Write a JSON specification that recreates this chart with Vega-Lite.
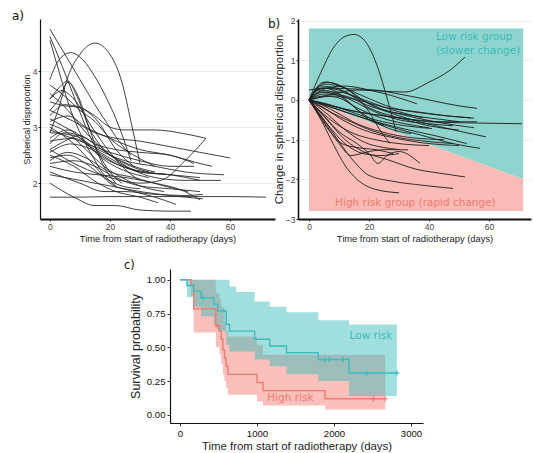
{
"$schema":"https://vega.github.io/schema/vega-lite/v6.json",
"padding":{"left":12,"top":10,"right":1,"bottom":0},
"background":"white",
"config":{
 "view":{"stroke":null},
 "font":"Liberation Sans",
 "axis":{"domainColor":"#111","domainWidth":1.2,"tickColor":"#333","tickSize":2,"labelColor":"#444","titleColor":"#222","titleFontWeight":"normal","gridColor":"#e8e8e8","gridWidth":0.8,"labelFont":"Liberation Sans","titleFont":"Liberation Sans"},
 "title":{"anchor":"start","frame":"group","offset":0,"baseline":"alphabetic","font":"DejaVu Sans","fontSize":12,"fontWeight":"normal","color":"#111"}
},
"datasets":{
"a":[
{"p":1,"d":0,"v":2.9},{"p":1,"d":3,"v":3.35},{"p":1,"d":6,"v":3.9},{"p":1,"d":10,"v":4.3},{"p":1,"d":15,"v":4.5},{"p":1,"d":20,"v":4.3},{"p":1,"d":24,"v":3.8},{"p":1,"d":27,"v":3.1},{"p":1,"d":30,"v":2.35},
{"p":2,"d":0,"v":3.85},{"p":2,"d":3,"v":4.2},{"p":2,"d":7,"v":4.33},{"p":2,"d":11,"v":4.2},{"p":2,"d":15,"v":3.9},{"p":2,"d":19,"v":3.5},{"p":2,"d":22,"v":3.15},{"p":2,"d":27,"v":2.4},
{"p":3,"d":0,"v":4.75},{"p":3,"d":5,"v":4.3},{"p":3,"d":10,"v":3.85},{"p":3,"d":15,"v":3.4},{"p":3,"d":19,"v":3.07},{"p":3,"d":23,"v":2.75},{"p":3,"d":27,"v":2.5},
{"p":4,"d":0,"v":4.62},{"p":4,"d":4,"v":4.1},{"p":4,"d":8,"v":3.55},{"p":4,"d":12,"v":3.0},{"p":4,"d":16,"v":2.55},{"p":4,"d":20,"v":2.2},{"p":4,"d":24,"v":2.0},
{"p":5,"d":0,"v":4.55},{"p":5,"d":3,"v":4.0},{"p":5,"d":6,"v":3.45},{"p":5,"d":10,"v":2.9},{"p":5,"d":14,"v":2.5},{"p":5,"d":18,"v":2.15},{"p":5,"d":22,"v":1.95},
{"p":6,"d":0,"v":3.5},{"p":6,"d":3,"v":3.7},{"p":6,"d":6,"v":3.82},{"p":6,"d":9,"v":3.55},{"p":6,"d":13,"v":3.0},{"p":6,"d":18,"v":2.6},{"p":6,"d":25,"v":2.35},{"p":6,"d":33,"v":2.2},
{"p":7,"d":0,"v":3.75},{"p":7,"d":5,"v":3.55},{"p":7,"d":10,"v":3.3},{"p":7,"d":15,"v":3.1},{"p":7,"d":20,"v":2.8},{"p":7,"d":28,"v":2.5},{"p":7,"d":35,"v":2.3},
{"p":8,"d":0,"v":3.45},{"p":8,"d":5,"v":3.38},{"p":8,"d":10,"v":3.35},{"p":8,"d":15,"v":3.2},{"p":8,"d":20,"v":3.0},{"p":8,"d":25,"v":2.95},{"p":8,"d":35,"v":2.95},{"p":8,"d":45,"v":2.88},{"p":8,"d":52,"v":2.8},
{"p":9,"d":0,"v":2.6},{"p":9,"d":10,"v":2.3},{"p":9,"d":20,"v":2.1},{"p":9,"d":30,"v":2.0},{"p":9,"d":37,"v":2.05},{"p":9,"d":45,"v":2.4},{"p":9,"d":52,"v":2.8},
{"p":10,"d":0,"v":3.3},{"p":10,"d":8,"v":3.1},{"p":10,"d":15,"v":2.9},{"p":10,"d":22,"v":2.8},{"p":10,"d":30,"v":2.75},{"p":10,"d":40,"v":2.65},{"p":10,"d":50,"v":2.55},{"p":10,"d":60,"v":2.45},
{"p":11,"d":0,"v":3.1},{"p":11,"d":6,"v":3.2},{"p":11,"d":12,"v":3.0},{"p":11,"d":20,"v":2.8},{"p":11,"d":30,"v":2.6},{"p":11,"d":40,"v":2.5},{"p":11,"d":50,"v":2.35},{"p":11,"d":54,"v":2.3},
{"p":12,"d":0,"v":2.9},{"p":12,"d":8,"v":2.85},{"p":12,"d":16,"v":2.6},{"p":12,"d":25,"v":2.4},{"p":12,"d":35,"v":2.3},{"p":12,"d":45,"v":2.2},{"p":12,"d":58,"v":2.15},
{"p":13,"d":0,"v":2.75},{"p":13,"d":8,"v":2.8},{"p":13,"d":15,"v":2.6},{"p":13,"d":25,"v":2.3},{"p":13,"d":35,"v":2.1},{"p":13,"d":45,"v":2.05},{"p":13,"d":57,"v":2.05},
{"p":14,"d":0,"v":1.75},{"p":14,"d":10,"v":1.75},{"p":14,"d":20,"v":1.76},{"p":14,"d":40,"v":1.76},{"p":14,"d":60,"v":1.76},{"p":14,"d":72,"v":1.75},
{"p":15,"d":0,"v":2.0},{"p":15,"d":8,"v":1.75},{"p":15,"d":15,"v":1.6},{"p":15,"d":22,"v":1.6},{"p":15,"d":30,"v":1.52},{"p":15,"d":40,"v":1.5},{"p":15,"d":47,"v":1.5},
{"p":16,"d":0,"v":2.2},{"p":16,"d":10,"v":2.0},{"p":16,"d":18,"v":1.85},{"p":16,"d":25,"v":1.85},{"p":16,"d":35,"v":1.8},{"p":16,"d":45,"v":1.78},{"p":16,"d":51,"v":1.8},
{"p":17,"d":0,"v":2.15},{"p":17,"d":10,"v":2.05},{"p":17,"d":20,"v":1.95},{"p":17,"d":30,"v":1.85},{"p":17,"d":40,"v":1.78},{"p":17,"d":51,"v":1.72},
{"p":18,"d":0,"v":2.5},{"p":18,"d":8,"v":2.3},{"p":18,"d":16,"v":2.0},{"p":18,"d":22,"v":1.85},{"p":18,"d":30,"v":1.75},{"p":18,"d":36,"v":1.65},
{"p":19,"d":0,"v":3.0},{"p":19,"d":8,"v":2.7},{"p":19,"d":15,"v":2.3},{"p":19,"d":20,"v":2.0},{"p":19,"d":28,"v":1.85},{"p":19,"d":35,"v":1.75},{"p":19,"d":42,"v":1.62},
{"p":20,"d":0,"v":2.4},{"p":20,"d":6,"v":2.55},{"p":20,"d":12,"v":2.45},{"p":20,"d":20,"v":2.2},{"p":20,"d":28,"v":2.1},{"p":20,"d":38,"v":1.95},{"p":20,"d":46,"v":1.85},
{"p":21,"d":0,"v":2.55},{"p":21,"d":7,"v":2.7},{"p":21,"d":14,"v":2.6},{"p":21,"d":22,"v":2.35},{"p":21,"d":30,"v":2.2},{"p":21,"d":40,"v":2.15},{"p":21,"d":50,"v":2.1},
{"p":22,"d":0,"v":2.7},{"p":22,"d":5,"v":2.9},{"p":22,"d":12,"v":2.8},{"p":22,"d":20,"v":2.5},{"p":22,"d":28,"v":2.3},{"p":22,"d":35,"v":2.2},
{"p":23,"d":0,"v":3.2},{"p":23,"d":5,"v":3.4},{"p":23,"d":10,"v":3.35},{"p":23,"d":16,"v":3.1},{"p":23,"d":22,"v":2.6},{"p":23,"d":28,"v":2.3},
{"p":24,"d":0,"v":3.5},{"p":24,"d":4,"v":3.65},{"p":24,"d":8,"v":3.5},{"p":24,"d":14,"v":3.0},{"p":24,"d":20,"v":2.55},{"p":24,"d":26,"v":2.2},{"p":24,"d":30,"v":2.05},
{"p":25,"d":0,"v":2.8},{"p":25,"d":6,"v":2.95},{"p":25,"d":12,"v":2.7},{"p":25,"d":18,"v":2.45},{"p":25,"d":24,"v":2.3},{"p":25,"d":32,"v":2.2},{"p":25,"d":40,"v":2.15},
{"p":26,"d":0,"v":2.35},{"p":26,"d":8,"v":2.4},{"p":26,"d":15,"v":2.3},{"p":26,"d":22,"v":2.1},{"p":26,"d":30,"v":1.95},{"p":26,"d":40,"v":1.9},{"p":26,"d":50,"v":1.85},
{"p":27,"d":0,"v":3.05},{"p":27,"d":6,"v":2.9},{"p":27,"d":12,"v":2.6},{"p":27,"d":18,"v":2.3},{"p":27,"d":24,"v":2.1},{"p":27,"d":30,"v":1.95},{"p":27,"d":38,"v":1.85},
{"p":28,"d":0,"v":2.6},{"p":28,"d":5,"v":2.75},{"p":28,"d":10,"v":2.85},{"p":28,"d":15,"v":2.7},{"p":28,"d":22,"v":2.6},{"p":28,"d":30,"v":2.55},{"p":28,"d":40,"v":2.5},{"p":28,"d":48,"v":2.35},
{"p":29,"d":0,"v":3.6},{"p":29,"d":6,"v":3.3},{"p":29,"d":12,"v":2.9},{"p":29,"d":18,"v":2.6},{"p":29,"d":24,"v":2.35},{"p":29,"d":30,"v":2.2},{"p":29,"d":40,"v":2.15},{"p":29,"d":50,"v":2.05},
{"p":30,"d":0,"v":2.45},{"p":30,"d":6,"v":2.5},{"p":30,"d":12,"v":2.35},{"p":30,"d":18,"v":2.1},{"p":30,"d":24,"v":1.95},{"p":30,"d":30,"v":1.9},
{"p":31,"d":0,"v":3.3},{"p":31,"d":3,"v":3.5},{"p":31,"d":6,"v":3.8},{"p":31,"d":9,"v":3.6},{"p":31,"d":13,"v":3.0},{"p":31,"d":17,"v":2.4},{"p":31,"d":22,"v":2.0},
{"p":32,"d":0,"v":2.3},{"p":32,"d":8,"v":2.2},{"p":32,"d":16,"v":2.15},{"p":32,"d":25,"v":2.1},{"p":32,"d":35,"v":2.0},{"p":32,"d":45,"v":1.85},{"p":32,"d":50,"v":1.7},
{"p":33,"d":0,"v":2.95},{"p":33,"d":10,"v":2.75},{"p":33,"d":20,"v":2.55},{"p":33,"d":30,"v":2.4},{"p":33,"d":40,"v":2.3},{"p":33,"d":48,"v":2.3},
{"p":34,"d":0,"v":3.15},{"p":34,"d":5,"v":3.0},{"p":34,"d":10,"v":2.85},{"p":34,"d":15,"v":2.55},{"p":34,"d":20,"v":2.35},{"p":34,"d":26,"v":2.2},{"p":34,"d":33,"v":2.1}
],
"b":[
{"p":1,"d":0,"v":0},{"p":1,"d":4,"v":0.7},{"p":1,"d":8,"v":1.3},{"p":1,"d":12,"v":1.6},{"p":1,"d":15,"v":1.65},{"p":1,"d":19,"v":1.45},{"p":1,"d":23,"v":0.8},{"p":1,"d":26,"v":0.05},{"p":1,"d":28,"v":-0.5},{"p":1,"d":29,"v":-0.8},
{"p":2,"d":0,"v":0},{"p":2,"d":8,"v":0.15},{"p":2,"d":16,"v":0.25},{"p":2,"d":25,"v":0.22},{"p":2,"d":32,"v":0.2},{"p":2,"d":40,"v":0.45},{"p":2,"d":47,"v":0.75},{"p":2,"d":52,"v":1.08},
{"p":3,"d":0,"v":0.25},{"p":3,"d":6,"v":0.3},{"p":3,"d":14,"v":0.28},{"p":3,"d":22,"v":0.25},{"p":3,"d":30,"v":0.15},{"p":3,"d":40,"v":0},{"p":3,"d":50,"v":-0.15},{"p":3,"d":56,"v":-0.21},
{"p":4,"d":0,"v":0},{"p":4,"d":10,"v":-0.2},{"p":4,"d":20,"v":-0.35},{"p":4,"d":30,"v":-0.45},{"p":4,"d":40,"v":-0.55},{"p":4,"d":55,"v":-0.58},{"p":4,"d":71,"v":-0.6},
{"p":5,"d":0,"v":0},{"p":5,"d":5,"v":0.4},{"p":5,"d":10,"v":0.35},{"p":5,"d":18,"v":0.1},{"p":5,"d":28,"v":-0.2},{"p":5,"d":40,"v":-0.35},{"p":5,"d":55,"v":-0.46},
{"p":6,"d":0,"v":0},{"p":6,"d":6,"v":0.45},{"p":6,"d":12,"v":0.3},{"p":6,"d":20,"v":-0.1},{"p":6,"d":30,"v":-0.4},{"p":6,"d":45,"v":-0.7},{"p":6,"d":59,"v":-0.93},
{"p":7,"d":0,"v":0},{"p":7,"d":8,"v":-0.2},{"p":7,"d":16,"v":-0.4},{"p":7,"d":26,"v":-0.65},{"p":7,"d":38,"v":-0.9},{"p":7,"d":48,"v":-1.1},{"p":7,"d":57,"v":-1.22},
{"p":8,"d":0,"v":0},{"p":8,"d":10,"v":-0.25},{"p":8,"d":20,"v":-0.5},{"p":8,"d":30,"v":-0.7},{"p":8,"d":42,"v":-0.9},{"p":8,"d":52.6,"v":-1.1},
{"p":9,"d":0,"v":0},{"p":9,"d":5,"v":0.3},{"p":9,"d":12,"v":0.2},{"p":9,"d":20,"v":-0.2},{"p":9,"d":30,"v":-0.45},{"p":9,"d":40,"v":-0.65},{"p":9,"d":50,"v":-0.76},
{"p":10,"d":0,"v":0},{"p":10,"d":6,"v":-0.1},{"p":10,"d":14,"v":-0.3},{"p":10,"d":22,"v":-0.5},{"p":10,"d":32,"v":-0.65},{"p":10,"d":41,"v":-0.72},
{"p":11,"d":0,"v":0},{"p":11,"d":5,"v":-0.4},{"p":11,"d":10,"v":-0.8},{"p":11,"d":16,"v":-1.1},{"p":11,"d":20,"v":-1.35},{"p":11,"d":23,"v":-1.6},{"p":11,"d":26,"v":-1.4},{"p":11,"d":30,"v":-1.3},{"p":11,"d":37,"v":-1.6},
{"p":12,"d":0,"v":0},{"p":12,"d":6,"v":-0.5},{"p":12,"d":12,"v":-1.0},{"p":12,"d":18,"v":-1.3},{"p":12,"d":26,"v":-1.5},{"p":12,"d":36,"v":-1.75},{"p":12,"d":44,"v":-1.85},{"p":12,"d":52,"v":-1.94},
{"p":13,"d":0,"v":0},{"p":13,"d":5,"v":-0.5},{"p":13,"d":10,"v":-1.05},{"p":13,"d":15,"v":-1.55},{"p":13,"d":20,"v":-1.9},{"p":13,"d":28,"v":-2.05},{"p":13,"d":38,"v":-2.15},{"p":13,"d":48,"v":-2.23},
{"p":14,"d":0,"v":0},{"p":14,"d":4,"v":-0.5},{"p":14,"d":8,"v":-1.1},{"p":14,"d":12,"v":-1.65},{"p":14,"d":16,"v":-2.0},{"p":14,"d":22,"v":-2.25},{"p":14,"d":30,"v":-2.34},
{"p":15,"d":0,"v":0},{"p":15,"d":5,"v":-0.55},{"p":15,"d":10,"v":-1.1},{"p":15,"d":14,"v":-1.4},{"p":15,"d":20,"v":-1.3},{"p":15,"d":26,"v":-1.25},{"p":15,"d":33,"v":-1.26},
{"p":16,"d":0,"v":0},{"p":16,"d":5,"v":0.2},{"p":16,"d":10,"v":0.2},{"p":16,"d":16,"v":0.05},{"p":16,"d":25,"v":-0.25},{"p":16,"d":35,"v":-0.4},{"p":16,"d":45,"v":-0.5},{"p":16,"d":50,"v":-0.55},
{"p":17,"d":0,"v":0},{"p":17,"d":4,"v":0.35},{"p":17,"d":9,"v":0.3},{"p":17,"d":15,"v":0.1},{"p":17,"d":22,"v":-0.1},{"p":17,"d":30,"v":-0.3},{"p":17,"d":38,"v":-0.45},
{"p":18,"d":0,"v":0},{"p":18,"d":7,"v":-0.3},{"p":18,"d":14,"v":-0.55},{"p":18,"d":22,"v":-0.8},{"p":18,"d":30,"v":-0.95},{"p":18,"d":40,"v":-1.05},{"p":18,"d":48,"v":-1.1},
{"p":19,"d":0,"v":0},{"p":19,"d":5,"v":0.15},{"p":19,"d":12,"v":0.1},{"p":19,"d":20,"v":-0.15},{"p":19,"d":30,"v":-0.35},{"p":19,"d":42,"v":-0.55},{"p":19,"d":55,"v":-0.7},
{"p":20,"d":0,"v":0},{"p":20,"d":6,"v":-0.35},{"p":20,"d":12,"v":-0.75},{"p":20,"d":18,"v":-1.05},{"p":20,"d":25,"v":-1.2},{"p":20,"d":30,"v":-1.25},
{"p":21,"d":0,"v":0},{"p":21,"d":5,"v":0.45},{"p":21,"d":9,"v":0.4},{"p":21,"d":14,"v":0.2},{"p":21,"d":20,"v":-0.3},{"p":21,"d":24,"v":-0.8},{"p":21,"d":27,"v":-1.1},
{"p":22,"d":0,"v":0},{"p":22,"d":3,"v":0.25},{"p":22,"d":8,"v":0.2},{"p":22,"d":14,"v":0},{"p":22,"d":22,"v":-0.3},{"p":22,"d":30,"v":-0.5},{"p":22,"d":40,"v":-0.6},{"p":22,"d":48,"v":-0.65},
{"p":23,"d":0,"v":0},{"p":23,"d":8,"v":-0.15},{"p":23,"d":16,"v":-0.3},{"p":23,"d":25,"v":-0.4},{"p":23,"d":35,"v":-0.5},{"p":23,"d":45,"v":-0.55},{"p":23,"d":56,"v":-0.55},
{"p":24,"d":0,"v":0},{"p":24,"d":4,"v":-0.3},{"p":24,"d":9,"v":-0.6},{"p":24,"d":15,"v":-0.85},{"p":24,"d":22,"v":-1.0},{"p":24,"d":30,"v":-1.1},{"p":24,"d":40,"v":-1.15},
{"p":25,"d":0,"v":0},{"p":25,"d":6,"v":0.3},{"p":25,"d":12,"v":0.35},{"p":25,"d":20,"v":0.25},{"p":25,"d":28,"v":0.1},{"p":25,"d":36,"v":-0.1},
{"p":26,"d":0,"v":0},{"p":26,"d":5,"v":-0.15},{"p":26,"d":10,"v":-0.35},{"p":26,"d":16,"v":-0.6},{"p":26,"d":24,"v":-0.8},{"p":26,"d":34,"v":-0.95},{"p":26,"d":45,"v":-1.0},
{"p":27,"d":0,"v":0},{"p":27,"d":3,"v":-0.35},{"p":27,"d":7,"v":-0.8},{"p":27,"d":11,"v":-1.1},{"p":27,"d":16,"v":-1.2},{"p":27,"d":22,"v":-1.25},{"p":27,"d":28,"v":-1.35},
{"p":28,"d":0,"v":0},{"p":28,"d":8,"v":0.1},{"p":28,"d":16,"v":0},{"p":28,"d":26,"v":-0.2},{"p":28,"d":36,"v":-0.3},{"p":28,"d":46,"v":-0.4},{"p":28,"d":54,"v":-0.45},
{"p":29,"d":0,"v":0},{"p":29,"d":4,"v":0.2},{"p":29,"d":10,"v":0.1},{"p":29,"d":18,"v":-0.35},{"p":29,"d":26,"v":-0.7},{"p":29,"d":34,"v":-0.85},
{"p":30,"d":0,"v":0},{"p":30,"d":5,"v":-0.2},{"p":30,"d":10,"v":-0.45},{"p":30,"d":18,"v":-0.75},{"p":30,"d":28,"v":-0.95},{"p":30,"d":40,"v":-1.1},{"p":30,"d":50,"v":-1.15},
{"p":31,"d":0,"v":0},{"p":31,"d":6,"v":-0.6},{"p":31,"d":12,"v":-1.1},{"p":31,"d":18,"v":-1.35},{"p":31,"d":24,"v":-1.4},{"p":31,"d":30,"v":-1.35},
{"p":32,"d":0,"v":0},{"p":32,"d":5,"v":0.1},{"p":32,"d":10,"v":0.05},{"p":32,"d":16,"v":-0.2},{"p":32,"d":24,"v":-0.45},{"p":32,"d":32,"v":-0.6},{"p":32,"d":40,"v":-0.7},
{"p":33,"d":0,"v":0},{"p":33,"d":4,"v":0.3},{"p":33,"d":8,"v":0.25},{"p":33,"d":14,"v":-0.1},{"p":33,"d":20,"v":-0.5},{"p":33,"d":25,"v":-0.65}
],
"bg":[{"d":0,"lo":-2.8,"v":0,"hi":1.8},{"d":71.4,"lo":-2.8,"v":-2,"hi":1.8}],
"lab":[{"d":42.3,"v":1.58,"t":"Low risk group","k":"L"},{"d":42.3,"v":1.245,"t":"(slower change)","k":"L"},{"d":8.7,"v":-2.59,"t":"High risk group (rapid change)","k":"H"}],
"km":[
{"g":"H","t":0,"s":1,"lo":1,"hi":1},{"g":"H","t":143,"s":0.96,"lo":0.88,"hi":1},{"g":"H","t":178,"s":0.785,"lo":0.61,"hi":1},{"g":"H","t":465,"s":0.66,"lo":0.5,"hi":0.9},{"g":"H","t":513,"s":0.62,"lo":0.45,"hi":0.86},{"g":"H","t":535,"s":0.56,"lo":0.38,"hi":0.8},{"g":"H","t":557,"s":0.48,"lo":0.3,"hi":0.74},{"g":"H","t":578,"s":0.42,"lo":0.25,"hi":0.68},{"g":"H","t":600,"s":0.36,"lo":0.2,"hi":0.62},{"g":"H","t":622,"s":0.3,"lo":0.15,"hi":0.58},{"g":"H","t":1000,"s":0.24,"lo":0.1,"hi":0.52},{"g":"H","t":1078,"s":0.18,"lo":0.07,"hi":0.445},{"g":"H","t":1883,"s":0.12,"lo":0.04,"hi":0.445},{"g":"H","t":2665,"s":0.12,"lo":0.04,"hi":0.445},
{"g":"L","t":0,"s":1,"lo":1,"hi":1},{"g":"L","t":91,"s":0.958,"lo":0.87,"hi":1},{"g":"L","t":178,"s":0.916,"lo":0.8,"hi":1},{"g":"L","t":274,"s":0.866,"lo":0.73,"hi":1},{"g":"L","t":439,"s":0.82,"lo":0.67,"hi":1},{"g":"L","t":491,"s":0.77,"lo":0.62,"hi":1},{"g":"L","t":600,"s":0.67,"lo":0.52,"hi":1},{"g":"L","t":643,"s":0.62,"lo":0.47,"hi":0.95},{"g":"L","t":730,"s":0.62,"lo":0.47,"hi":0.91},{"g":"L","t":970,"s":0.56,"lo":0.41,"hi":0.84},{"g":"L","t":1165,"s":0.51,"lo":0.36,"hi":0.8},{"g":"L","t":1383,"s":0.46,"lo":0.3,"hi":0.76},{"g":"L","t":1796,"s":0.41,"lo":0.25,"hi":0.7},{"g":"L","t":2196,"s":0.31,"lo":0.14,"hi":0.67},{"g":"L","t":2817,"s":0.31,"lo":0.14,"hi":0.67}
],
"cens":[
{"g":"L","t":296,"s":0.866},{"g":"L","t":570,"s":0.77},{"g":"L","t":1883,"s":0.41},{"g":"L","t":1935,"s":0.41},{"g":"L","t":2122,"s":0.41},{"g":"L","t":2426,"s":0.31},{"g":"L","t":2817,"s":0.31},
{"g":"H","t":483,"s":0.66},{"g":"H","t":2513,"s":0.12},{"g":"H","t":2665,"s":0.12}
],
"labc":[{"g":"L","t":2480,"s":0.587,"txt":"Low risk"},{"g":"H","t":1433,"s":0.124,"txt":"High risk"}]
},
"vconcat":[
 {"hconcat":[
  {
   "width":235,"height":200,
   "title":{"text":"a)","dx":-28,"dy":8},
   "data":{"name":"a"},
   "mark":{"type":"line","interpolate":"monotone","color":"#2a2a2a","strokeWidth":0.9},
   "encoding":{
    "x":{"field":"d","type":"quantitative","scale":{"domain":[-3.3,75],"nice":false,"zero":false},
         "axis":{"values":[0,20,40,60],"title":"Time from start of radiotherapy (days)","titleFontSize":9.4,"labelFontSize":8.5,"grid":false,"labelPadding":1,"titlePadding":4,"domainWidth":2}},
    "y":{"field":"v","type":"quantitative","scale":{"domain":[1.36,4.93],"nice":false,"zero":false},
         "axis":{"values":[2,3,4],"title":"Spherical disproportion","titleFontSize":8.8,"labelFontSize":8.5,"grid":true,"labelPadding":1,"titlePadding":1}},
    "detail":{"field":"p","type":"nominal"}
   }
  },
  {
   "width":233,"height":200,
   "title":{"text":"b)","dx":-30,"dy":18},
   "encoding":{
    "x":{"field":"d","type":"quantitative","scale":{"domain":[-3.67,74],"nice":false,"zero":false},
         "axis":{"values":[0,20,40,60],"title":"Time from start of radiotherapy (days)","titleFontSize":9.4,"labelFontSize":8.5,"grid":false,"labelPadding":1,"titlePadding":4,"domainWidth":2}},
    "y":{"field":"v","type":"quantitative","scale":{"domain":[-3,2.04],"nice":false,"zero":false},
         "axis":{"values":[-3,-2,-1,0,1,2],"title":"Change in spherical disproportion","titleFontSize":11.4,"labelFontSize":8.5,"grid":true,"labelPadding":1,"titlePadding":1,"domainWidth":1.6}}
   },
   "layer":[
    {"data":{"name":"bg"},"mark":{"type":"area","color":"#8fd4cd","opacity":1},"encoding":{"y2":{"field":"hi"}}},
    {"data":{"name":"bg"},"mark":{"type":"area","color":"#f8bbb6","opacity":1},"encoding":{"y":{"field":"lo","type":"quantitative"},"y2":{"field":"v"}}},
    {"data":{"name":"b"},"mark":{"type":"line","interpolate":"monotone","color":"#1e1e1e","strokeWidth":0.9},"encoding":{"detail":{"field":"p","type":"nominal"}}},
    {"data":{"name":"lab"},"mark":{"type":"text","align":"left","baseline":"middle","font":"DejaVu Sans","fontSize":10.5},
     "encoding":{"text":{"field":"t"},"color":{"field":"k","type":"nominal","scale":{"domain":["H","L"],"range":["#f07a70","#3bbdbd"]},"legend":null}}}
   ]
  }
 ],"spacing":-7},
 {"hconcat":[
  {"width":84,"height":10,"data":{"values":[]},"mark":{"type":"point","opacity":0}},
  {
   "width":253,"height":154,
   "title":{"text":"c)","dx":-46,"dy":6.5,"fontSize":11.5},
   "encoding":{
    "x":{"field":"t","type":"quantitative","scale":{"domain":[-130,3156],"nice":false,"zero":false},
         "axis":{"values":[0,1000,2000,3000],"format":"d","title":"Time from start of radiotherapy (days)","titleFontSize":11.4,"labelFontSize":9.6,"tickSize":3,"labelPadding":2,"titlePadding":3,"grid":false,"labelColor":"#111"}},
    "y":{"field":"s","type":"quantitative","scale":{"domain":[-0.06,1.08],"nice":false,"zero":false},
         "axis":{"values":[0,0.25,0.5,0.75,1],"format":".2f","title":"Survival probability","titleFontSize":12.5,"labelFontSize":9.6,"tickSize":3,"labelPadding":2,"titlePadding":4,"grid":false,"labelColor":"#111"}},
    "color":{"field":"g","type":"nominal","scale":{"domain":["H","L"],"range":["#f4766b","#1cb0b2"]},"legend":null}
   },
   "layer":[
    {"data":{"name":"km"},"mark":{"type":"area","interpolate":"step-after","fillOpacity":0.48},"encoding":{"y":{"field":"lo","type":"quantitative"},"y2":{"field":"hi"}}},
    {"data":{"name":"km"},"mark":{"type":"line","interpolate":"step-after","strokeWidth":1.4}},
    {"data":{"name":"cens"},"mark":{"type":"point","shape":"M-1,0L1,0M0,-1L0,1","size":28,"filled":false,"strokeWidth":1.1,"opacity":1}},
    {"data":{"name":"labc"},"mark":{"type":"text","font":"DejaVu Sans","fontSize":10.5,"baseline":"middle","align":"center"},"encoding":{"text":{"field":"txt"}}}
   ]
  }
 ],"spacing":0}
],
"spacing":17
}
